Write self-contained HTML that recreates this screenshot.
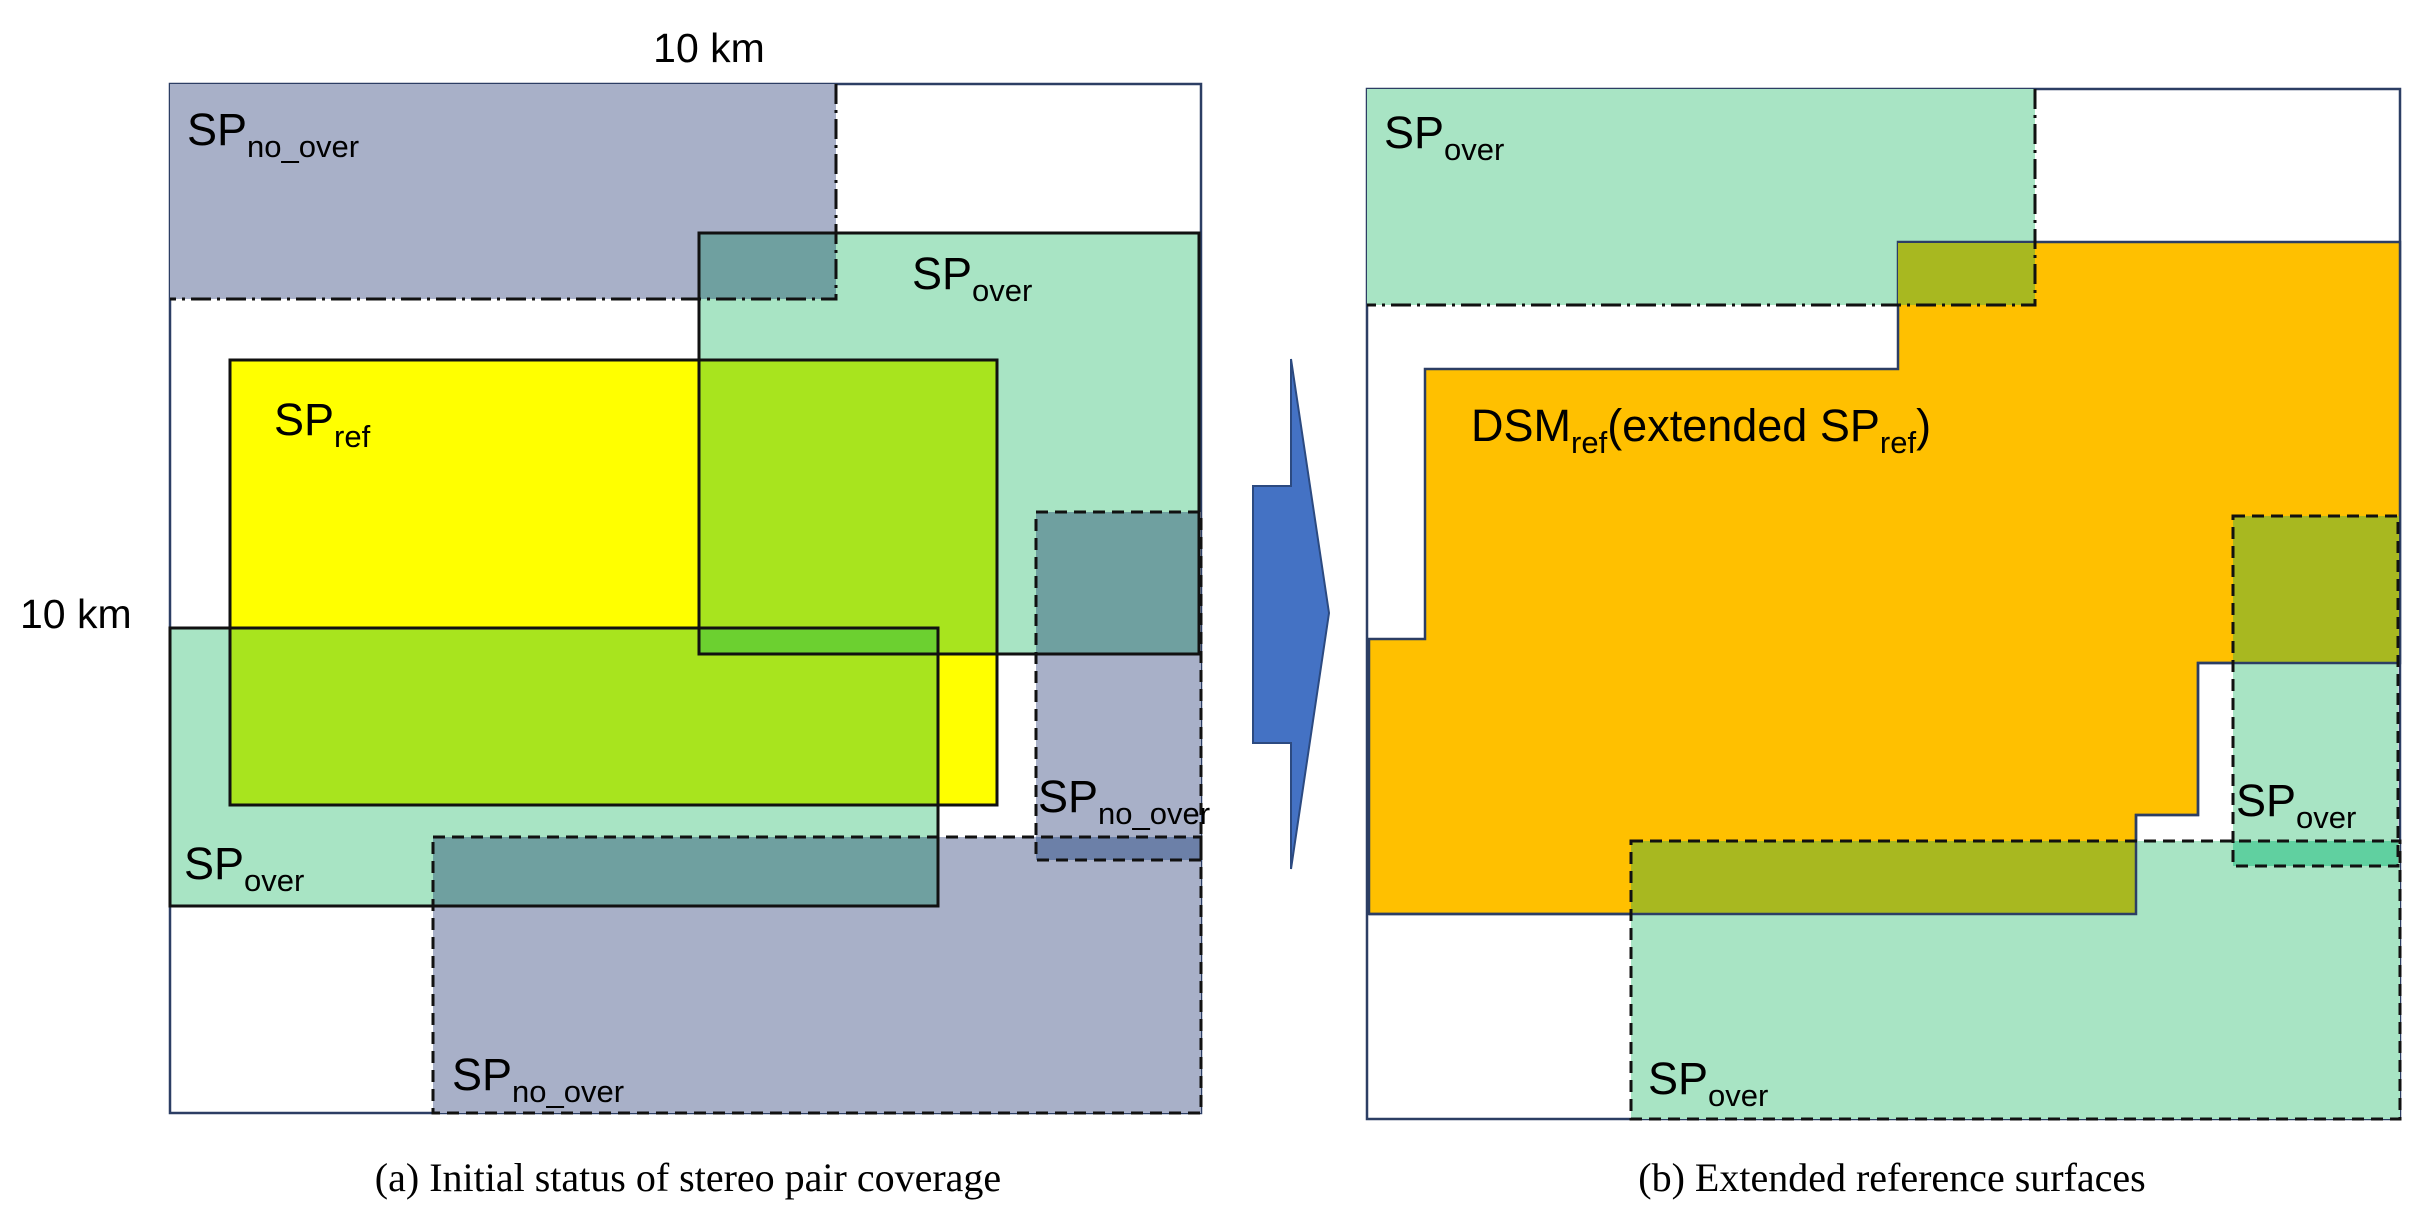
<!DOCTYPE html>
<html><head><meta charset="utf-8"><style>
html,body{margin:0;padding:0;background:#fff;}
svg{display:block;}
text{font-family:"Liberation Sans",sans-serif;fill:#000;}
.sp{font-size:45px;}
.sub{font-size:31px;}
.cap{font-family:"Liberation Serif",serif;font-size:40px;}
</style></head><body>
<svg width="2415" height="1225" viewBox="0 0 2415 1225" xmlns="http://www.w3.org/2000/svg">
<!-- LEFT PANEL -->
<rect x="170" y="84" width="1031" height="1029" fill="#fff" stroke="#2c3e64" stroke-width="2.5"/>
<rect x="170" y="84" width="666" height="215" fill="#a8b0c8"/>
<rect x="699" y="233" width="500" height="421" fill="#a8e4c4"/>
<rect x="699" y="233" width="137" height="66" fill="#6fa0a0"/>
<rect x="230" y="360" width="767" height="445" fill="#ffff00"/>
<rect x="699" y="360" width="298" height="294" fill="#a8e41e"/>
<rect x="170" y="628" width="768" height="278" fill="#a8e4c4"/>
<rect x="230" y="628" width="708" height="177" fill="#a8e41e"/>
<rect x="699" y="628" width="239" height="26" fill="#6cd030"/>
<rect x="433" y="837" width="768" height="276" fill="#a8b0c8"/>
<rect x="433" y="837" width="505" height="69" fill="#6fa0a0"/>
<rect x="1036" y="512" width="165" height="348" fill="#a8b0c8"/>
<rect x="1036" y="512" width="163" height="142" fill="#6fa0a0"/>
<rect x="1036" y="837" width="165" height="23" fill="#6c80a8"/>
<!-- strokes -->
<polyline points="836,84 836,299 170,299" fill="none" stroke="#111" stroke-width="3" stroke-dasharray="20,6,3,6"/>
<rect x="699" y="233" width="500" height="421" fill="none" stroke="#111" stroke-width="3"/>
<rect x="230" y="360" width="767" height="445" fill="none" stroke="#111" stroke-width="3"/>
<rect x="170" y="628" width="768" height="278" fill="none" stroke="#111" stroke-width="3"/>
<rect x="433" y="837" width="768" height="276" fill="none" stroke="#111" stroke-width="3" stroke-dasharray="12,7"/>
<rect x="1036" y="512" width="165" height="348" fill="none" stroke="#111" stroke-width="3" stroke-dasharray="12,7"/>
<!-- labels -->
<text x="709" y="62" font-size="41" text-anchor="middle">10 km</text>
<text x="20" y="628" font-size="41">10 km</text>
<text x="187" y="145" class="sp">SP<tspan class="sub" dy="12">no_over</tspan></text>
<text x="912" y="289" class="sp">SP<tspan class="sub" dy="12">over</tspan></text>
<text x="274" y="435" class="sp">SP<tspan class="sub" dy="12">ref</tspan></text>
<text x="184" y="879" class="sp">SP<tspan class="sub" dy="12">over</tspan></text>
<text x="1038" y="812" class="sp">SP<tspan class="sub" dy="12">no_over</tspan></text>
<text x="452" y="1090" class="sp">SP<tspan class="sub" dy="12">no_over</tspan></text>
<text x="688" y="1191" class="cap" text-anchor="middle">(a) Initial status of stereo pair coverage</text>
<!-- ARROW -->
<polygon points="1253,486 1291,486 1291,359 1329,613 1291,869 1291,743 1253,743" fill="#4472c4" stroke="#2c4a80" stroke-width="2"/>
<!-- RIGHT PANEL -->
<rect x="1367" y="89" width="1033" height="1030" fill="#fff" stroke="#2c3e64" stroke-width="2.5"/>
<rect x="1367" y="89" width="668" height="216" fill="#a8e4c4"/>
<polygon points="1369,639 1425,639 1425,369 1898,369 1898,242 2400,242 2400,663 2198,663 2198,815 2136,815 2136,914 1369,914" fill="#ffc000" stroke="#2c3e64" stroke-width="2.5"/>
<rect x="1898" y="243" width="137" height="62" fill="#a8b820"/>
<rect x="2233" y="516" width="165" height="350" fill="#a8e4c4"/>
<rect x="2233" y="516" width="166" height="147" fill="#a8b820"/>
<rect x="1631" y="841" width="769" height="278" fill="#a8e4c4"/>
<rect x="1631" y="841" width="505" height="73" fill="#a8b820"/>
<rect x="2233" y="841" width="165" height="25" fill="#60d0a0"/>
<polyline points="1369,914 2136,914 2136,815 2198,815 2198,663 2400,663" fill="none" stroke="#2c3e64" stroke-width="2.5"/>
<polyline points="2035,89 2035,305 1367,305" fill="none" stroke="#111" stroke-width="3" stroke-dasharray="20,6,3,6"/>
<rect x="1631" y="841" width="769" height="278" fill="none" stroke="#111" stroke-width="3" stroke-dasharray="12,7"/>
<rect x="2233" y="516" width="165" height="350" fill="none" stroke="#111" stroke-width="3" stroke-dasharray="12,7"/>
<text x="1384" y="148" class="sp">SP<tspan class="sub" dy="12">over</tspan></text>
<text x="1471" y="441" class="sp">DSM<tspan class="sub" dy="12">ref</tspan><tspan dy="-12">(extended SP</tspan><tspan class="sub" dy="12">ref</tspan><tspan dy="-12">)</tspan></text>
<text x="2236" y="816" class="sp">SP<tspan class="sub" dy="12">over</tspan></text>
<text x="1648" y="1094" class="sp">SP<tspan class="sub" dy="12">over</tspan></text>
<text x="1892" y="1191" class="cap" text-anchor="middle">(b) Extended reference surfaces</text>
</svg>
</body></html>
